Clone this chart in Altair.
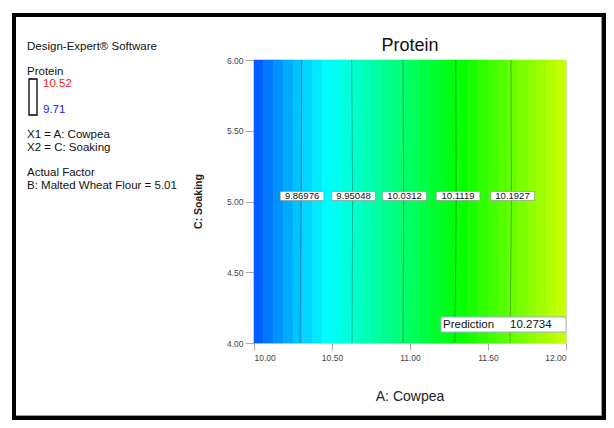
import altair as alt
import pandas as pd

FONT = "Liberation Sans"

# Response surface: Protein across A: Cowpea (x), nearly constant over C: Soaking (y)
band_values = [9.785, 9.806, 9.826, 9.846, 9.866, 9.880, 9.895, 9.910,
               9.925, 9.940, 9.955, 9.970, 9.985, 10.000, 10.015, 10.030,
               10.045, 10.061, 10.076, 10.091, 10.106, 10.121, 10.136, 10.151,
               10.166, 10.181, 10.196, 10.211, 10.226, 10.241, 10.256, 10.271]
band_step = 0.0625

contour_levels = [9.86976, 9.95048, 10.0312, 10.1119, 10.1927]
contour_labels = ["9.86976", "9.95048", "10.0312", "10.1119", "10.1927"]
contour_y = [4.0, 5.0, 6.0]
contour_x = [
    [10.295, 10.302, 10.306],
    [10.628, 10.632, 10.626],
    [10.955, 10.960, 10.955],
    [11.288, 11.296, 11.293],
    [11.641, 11.650, 11.647],
]
label_x = [10.308, 10.638, 10.965, 11.308, 11.657]
label_y = 5.039

x_ticks = [10.0, 10.5, 11.0, 11.5, 12.0]
y_ticks = [4.0, 4.5, 5.0, 5.5, 6.0]

color_domain = [9.71, 9.9125, 10.115, 10.3175, 10.52]
color_range = ["#0000ff", "#00ffff", "#00ff00", "#ffff00", "#ff0000"]

bands = pd.DataFrame({
    "x0": [10.0 + i * band_step for i in range(len(band_values))],
    "x1": [10.0 + (i + 1) * band_step for i in range(len(band_values))],
    "y0": 4.0, "y1": 6.0,
    "protein": band_values,
})

rows = []
for lvl, xs in zip(contour_levels, contour_x):
    for xv, yv in zip(xs, contour_y):
        rows.append({"level": lvl, "x": xv, "y": yv})
contours = pd.DataFrame(rows)

labels = pd.DataFrame({"x": label_x, "y": label_y, "text": contour_labels})

xscale = alt.Scale(domain=[10, 12], nice=False, zero=False)
yscale = alt.Scale(domain=[4, 6], nice=False, zero=False)

xaxis = alt.Axis(values=x_ticks, format=".2f", title=None, grid=False, domain=False,
                 tickColor="#aaaaaa", tickSize=7, labelFontSize=8.5, labelColor="#444444",
                 labelFont=FONT, labelPadding=3)
yaxis = alt.Axis(values=y_ticks, format=".2f", title=None, grid=False, domain=False,
                 tickColor="#aaaaaa", tickSize=9, labelFontSize=8.5, labelColor="#444444",
                 labelFont=FONT, labelPadding=2)

cscale = alt.Scale(domain=color_domain, range=color_range, interpolate="rgb")

heat = alt.Chart(bands).mark_rect(strokeWidth=0.6).encode(
    x=alt.X("x0:Q", scale=xscale, axis=xaxis),
    x2="x1:Q",
    y=alt.Y("y0:Q", scale=yscale, axis=yaxis),
    y2="y1:Q",
    color=alt.Color("protein:Q", scale=cscale, legend=None),
    stroke=alt.Stroke("protein:Q", scale=cscale, legend=None),
)

lines = alt.Chart(contours).mark_line(color="#000000", opacity=0.3, strokeWidth=1).encode(
    x=alt.X("x:Q", scale=xscale),
    y=alt.Y("y:Q", scale=yscale),
    detail="level:N",
    order="y:Q",
)

lab_box = alt.Chart(labels).transform_calculate(
    xa="datum.x - 0.14", xb="datum.x + 0.14",
    ya="datum.y - 0.032", yb="datum.y + 0.032",
).mark_rect(fill="white", stroke="#888888", strokeWidth=0.6).encode(
    x=alt.X("xa:Q", scale=xscale), x2="xb:Q",
    y=alt.Y("ya:Q", scale=yscale), y2="yb:Q",
)
lab_text = alt.Chart(labels).mark_text(font=FONT, fontSize=9.5, color="#111111",
                                       baseline="middle", align="center").encode(
    x=alt.X("x:Q", scale=xscale), y=alt.Y("y:Q", scale=yscale), text="text:N")

one = pd.DataFrame({"k": [0]})


def txt(s, x, y, size=11.5, color="#111111", align="left", weight="normal", angle=0):
    return alt.Chart(one).mark_text(text=s, font=FONT, fontSize=size, color=color, align=align,
                                    baseline="middle", fontWeight=weight, angle=angle).encode(
        x=alt.value(x), y=alt.value(y))


frame = alt.Chart(one).mark_rect(filled=False, stroke="black", strokeWidth=4).encode(
    x=alt.value(-240), x2=alt.value(350), y=alt.value(-45), y2=alt.value(358))
shadow_r = alt.Chart(one).mark_rule(color="#999999", strokeWidth=1).encode(
    x=alt.value(347.5), y=alt.value(-43), y2=alt.value(356))
shadow_b = alt.Chart(one).mark_rule(color="#999999", strokeWidth=1).encode(
    x=alt.value(-238), x2=alt.value(348), y=alt.value(355.5))

legend_box = alt.Chart(one).mark_rect(filled=False, stroke="black", strokeWidth=1.3).encode(
    x=alt.value(-225), x2=alt.value(-217), y=alt.value(19), y2=alt.value(55))

pred_box = alt.Chart(one).mark_rect(fill="white", stroke="#a8a8e8", strokeWidth=1).encode(
    x=alt.value(187), x2=alt.value(312), y=alt.value(257), y2=alt.value(272))

texts = [
    txt("Design-Expert® Software", -227, -13),
    txt("Protein", -227, 12),
    txt("10.52", -211, 24, color="#ff2020"),
    txt("9.71", -211, 50, color="#2020ff"),
    txt("X1 = A: Cowpea", -227, 75),
    txt("X2 = C: Soaking", -227, 87.5),
    txt("Actual Factor", -227, 113),
    txt("B: Malted Wheat Flour = 5.01", -227, 126),
    txt("Protein", 156, -14, size=18, align="center"),
    txt("A: Cowpea", 156, 337, size=14, align="center", color="#222222"),
    txt("C: Soaking", -55, 141.5, size=10.5, align="center", weight="bold", angle=270,
        color="#222222"),
    txt("Prediction", 189, 264.5, size=11.5),
    txt("10.2734", 256, 264.5, size=11.5),
]

chart = alt.layer(heat, lines, lab_box, lab_text, frame, shadow_r, shadow_b, legend_box,
                  pred_box, *texts).properties(
    width=312, height=283,
    autosize=alt.AutoSizeParams(type="none"),
    padding={"left": 246, "top": 52, "right": 40, "bottom": 77},
).configure_view(stroke="#c0c0d8", strokeWidth=1).configure(background="white")

chart.save("out.html", embed_options={"renderer": "svg", "actions": False})
